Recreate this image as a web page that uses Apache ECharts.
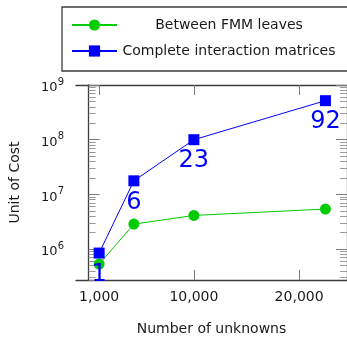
<!DOCTYPE html>
<html>
<head>
<meta charset="utf-8">
<script src="https://cdn.jsdelivr.net/npm/echarts@6/dist/echarts.min.js"></script>
<style>
  html, body { margin: 0; padding: 0; background: #ffffff; }
  #chart { width: 347px; height: 337px; }
</style>
</head>
<body>
<div id="chart"></div>
<script>
// Problem sizes (x) and costs (y) for the two cost measures
const unknowns = [1000, 4300, 10000, 22500];
const leafCost = [5.32e5, 2.86e6, 4.12e6, 5.4e6];
const matrixCost = [8.45e5, 1.77e7, 1.0e8, 5.17e8];
const matrixLabels = ['1', '6', '23', '92'];
const seriesNames = ['Between FMM leaves', 'Complete interaction matrices'];
const xTickValues = [1000, 10000, 20000];
const yDecades = [6, 7, 8, 9];

const X_MIN = -1200, X_MAX = 24550;
const Y_MIN = 2.72e5, Y_MAX = 1e9;
const LOG_MIN = Math.log10(Y_MIN), LOG_MAX = Math.log10(Y_MAX);

// minor ticks at 2..9 x 10^n, expressed in log10 space
const minorTicks = [];
for (let n = 5; n <= 8; n++) {
  for (let k = 2; k <= 9; k++) {
    const v = Math.log10(k * Math.pow(10, n));
    if (v > LOG_MIN && v < LOG_MAX) minorTicks.push(v);
  }
}

const FONT = 'DejaVu Sans';
const TEXT = '#1a1a1a';
const FRAME = { color: '#3c3c3c', width: 1.3 };
const MAJOR = { color: '#7a7a7a', width: 1 };
const MINOR = { color: '#9a9a9a', width: 1 };

const chart = echarts.init(document.getElementById('chart'), null, { renderer: 'canvas' });

// decoration-only axes in log10 space carrying tick marks on the frame
const tickAxis = (position, values, length, style, showLine) => ({
  type: 'value', position, min: LOG_MIN, max: LOG_MAX,
  axisLine: { show: showLine, lineStyle: FRAME },
  axisTick: { show: true, inside: true, length, customValues: values, lineStyle: style },
  axisLabel: { show: false },
  splitLine: { show: false }
});

chart.setOption({
  animation: false,
  textStyle: { fontFamily: FONT },
  grid: { left: 76, right: 0, top: 85, bottom: 57, containLabel: false, outerBoundsMode: 'none' },
  legend: {
    orient: 'vertical',
    left: 62, top: 7,
    itemWidth: 45, itemHeight: 14, itemGap: 12,
    padding: [11, 14, 13, 9],
    borderColor: '#3c3c3c', borderWidth: 1.3, borderRadius: 0,
    selectedMode: false,
    data: seriesNames,
    formatter: name => '{t|' + name + '}',
    textStyle: {
      rich: { t: { width: 214, align: 'center', fontSize: 14, lineHeight: 16, color: TEXT, fontFamily: FONT } }
    }
  },
  xAxis: [
    {
      type: 'value', position: 'bottom', min: X_MIN, max: X_MAX,
      name: 'Number of unknowns', nameLocation: 'middle', nameGap: 42,
      nameTextStyle: { fontSize: 14, color: TEXT },
      axisLine: { show: true, lineStyle: FRAME },
      axisTick: { show: true, inside: true, length: 10, customValues: xTickValues, lineStyle: MAJOR },
      axisLabel: {
        customValues: xTickValues, margin: 10, fontSize: 14, color: TEXT,
        formatter: v => v.toLocaleString('en-US')
      },
      splitLine: { show: false }
    },
    {
      type: 'value', position: 'top', min: X_MIN, max: X_MAX,
      axisLine: { show: true, lineStyle: FRAME },
      axisTick: { show: true, inside: true, length: 10, customValues: xTickValues, lineStyle: MAJOR },
      axisLabel: { show: false },
      splitLine: { show: false }
    }
  ],
  yAxis: [
    {
      type: 'log', logBase: 10, position: 'left', min: Y_MIN, max: Y_MAX,
      name: 'Unit of Cost', nameLocation: 'middle', nameGap: 54, nameRotate: 90,
      nameTextStyle: { fontSize: 14, color: TEXT },
      axisLine: { show: true, lineStyle: FRAME },
      axisTick: { show: true, inside: true, length: 11, lineStyle: MAJOR },
      axisLabel: {
        margin: 12,
        formatter: v => {
          const e = Math.round(Math.log10(v));
          if (Math.abs(Math.log10(v) - e) > 1e-6) return '';
          return '{b|10}{s|' + e + '}';
        },
        rich: {
          b: { fontSize: 13, color: TEXT, fontFamily: FONT, padding: [6, 0, 0, 0] },
          s: { fontSize: 10, color: TEXT, fontFamily: FONT, padding: [0, 0, 6, 0] }
        }
      },
      splitLine: { show: false }
    },
    tickAxis('left', minorTicks, 7, MINOR, false),
    tickAxis('right', yDecades, 11, MAJOR, true),
    tickAxis('right', minorTicks, 7, MINOR, false)
  ],
  series: [
    {
      name: seriesNames[0], type: 'line',
      xAxisIndex: 0, yAxisIndex: 0,
      data: unknowns.map((x, i) => [x, leafCost[i]]),
      symbol: 'circle', symbolSize: 11,
      itemStyle: { color: '#00cc00' },
      lineStyle: { color: '#00cc00', width: 1 },
      z: 2
    },
    {
      name: seriesNames[1], type: 'line',
      xAxisIndex: 0, yAxisIndex: 0,
      data: unknowns.map((x, i) => [x, matrixCost[i]]),
      symbol: 'rect', symbolSize: 11,
      itemStyle: { color: '#0000ff' },
      lineStyle: { color: '#0000ff', width: 1 },
      label: {
        show: true, position: 'bottom', distance: 4,
        formatter: p => matrixLabels[p.dataIndex],
        color: '#0000ff', fontSize: 24, fontFamily: FONT
      },
      z: 3
    }
  ]
});
</script>
</body>
</html>
